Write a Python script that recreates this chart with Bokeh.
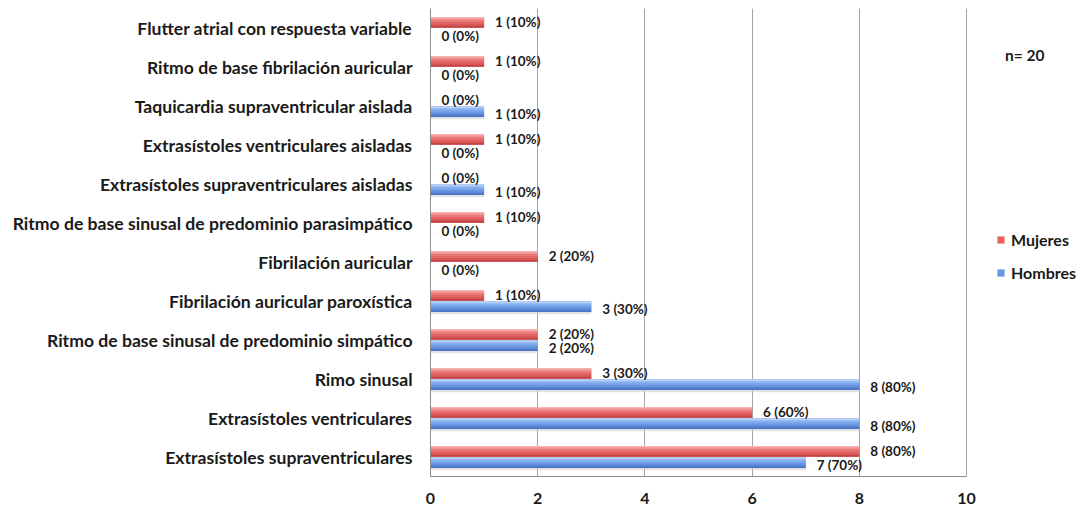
from bokeh.plotting import figure
from bokeh.models import (FixedTicker, Legend, LegendItem, ColumnDataSource, Label)
from bokeh.core.properties import value
from bokeh.transform import dodge
from bokeh.embed import file_html
from bokeh.resources import INLINE

# bottom -> top
categories = [
    "Extrasístoles supraventriculares",
    "Extrasístoles ventriculares",
    "Rimo sinusal",
    "Ritmo de base sinusal de predominio simpático",
    "Fibrilación auricular paroxística",
    "Fibrilación auricular",
    "Ritmo de base sinusal de predominio parasimpático",
    "Extrasístoles supraventriculares aisladas",
    "Extrasístoles ventriculares aisladas",
    "Taquicardia supraventricular aislada",
    "Ritmo de base fibrilación auricular",
    "Flutter atrial con respuesta variable",
]
mujeres = [8, 6, 3, 2, 1, 2, 1, 0, 1, 0, 1, 1]
hombres = [7, 8, 8, 2, 3, 0, 0, 1, 0, 1, 0, 0]
mujeres_pct = ["80%", "60%", "30%", "20%", "10%", "20%", "10%", "0%", "10%", "0%", "10%", "10%"]
hombres_pct = ["70%", "80%", "80%", "20%", "30%", "0%", "0%", "10%", "0%", "10%", "0%", "0%"]
x_ticks = [0, 2, 4, 6, 8, 10]

FONT = "Lato"
n = len(categories)
ys = list(range(n))
off = 0.145
bh = 0.28

FW = 652
PX_PER_UNIT = 53.6
p = figure(frame_width=FW, frame_height=468, output_backend="svg", toolbar_location=None,
           x_range=(0, FW / PX_PER_UNIT), y_range=(-0.5, n - 0.5),
           min_border_left=430, min_border_right=0, min_border_top=8, min_border_bottom=0)
p.outline_line_color = None
p.background_fill_color = "white"

# y axis
p.yaxis.ticker = FixedTicker(ticks=ys)
p.yaxis.major_label_overrides = {i: c for i, c in enumerate(categories)}
p.yaxis.major_tick_line_color = None
p.yaxis.minor_tick_line_color = None
p.yaxis.axis_line_color = "#8c8c8c"
p.yaxis.major_label_text_font = FONT
p.yaxis.major_label_text_font_style = "bold"
p.yaxis.major_label_text_font_size = "17.6px"
p.yaxis.major_label_text_color = "#1a1a1a"
p.yaxis.major_label_standoff = 12

# x axis
p.xaxis.ticker = FixedTicker(ticks=x_ticks)
p.xaxis.bounds = (0, 10)
p.xaxis.major_tick_line_color = None
p.xaxis.minor_tick_line_color = None
p.xaxis.axis_line_color = "#8c8c8c"
p.xaxis.major_label_text_font = FONT
p.xaxis.major_label_text_font_style = "bold"
p.xaxis.major_label_text_font_size = "16px"
p.xaxis.major_label_text_color = "#1a1a1a"
p.xaxis.major_label_standoff = 10

p.ygrid.grid_line_color = None
p.xgrid.grid_line_color = "#a6a6a6"
p.xgrid.grid_line_width = 1

yr = [y + off for y in ys]
yb = [y - off for y in ys]

src = ColumnDataSource(dict(
    y=ys, yr=yr, yb=yb, m=mujeres, h=hombres,
    ml=[f"{v} ({s})" for v, s in zip(mujeres, mujeres_pct)],
    hl=[f"{v} ({s})" for v, s in zip(hombres, hombres_pct)],
))

def gradient_bar(ycol, xcol, colors, base):
    # full bar in the base colour, then thin stripes (top -> bottom) to mimic a gradient
    r = p.hbar(y=ycol, right=xcol, left=0, height=bh, source=src,
               fill_color=base, line_color=None)
    k = len(colors)
    sh = bh / k
    for i, c in enumerate(colors):
        d = bh / 2 - sh * (i + 0.5)
        p.hbar(y=dodge(ycol, d, range=p.y_range), right=xcol, left=0, height=sh,
               source=src, fill_color=c, line_color=None)
    return r

# soft shadow below blue bars
p.hbar(y=dodge("yb", -bh * 0.6, range=p.y_range), right="h", left=0, height=bh * 0.2,
       source=src, fill_color="#c8c8c8", fill_alpha=0.5, line_color=None)

r_m = gradient_bar("yr", "m", ["#f8b4b4", "#f29494", "#ea7878", "#e26464", "#d65454", "#c44444"], "#e26464")
r_h = gradient_bar("yb", "h", ["#b6d0f8", "#98bcf2", "#7ea8ec", "#6a96e2", "#5a86d6", "#4874c4"], "#6a96e2")

p.text(x="m", y="yr", text="ml", source=src, x_offset=11, y_offset=0,
       text_font=value(FONT), text_font_style="bold", text_font_size="13.5px",
       text_baseline="middle", text_align="left", text_color="#1a1a1a")
p.text(x="h", y="yb", text="hl", source=src, x_offset=11, y_offset=2,
       text_font=value(FONT), text_font_style="bold", text_font_size="13.5px",
       text_baseline="middle", text_align="left", text_color="#1a1a1a")

lab = Label(x=10.72, y=10.31, text="n= 20", text_font=FONT, text_font_style="bold",
            text_font_size="15.5px", text_baseline="middle", text_color="#1a1a1a")
p.add_layout(lab)

legend = Legend(items=[LegendItem(label="Mujeres", renderers=[r_m]),
                       LegendItem(label="Hombres", renderers=[r_h])],
                location=(566, 194), orientation="vertical",
                glyph_width=9, glyph_height=9, label_text_font=FONT,
                label_text_font_style="bold", label_text_font_size="16px",
                label_text_color="#1a1a1a", spacing=14, padding=8,
                margin=0, border_line_color=None, background_fill_alpha=0,
                label_standoff=6)
p.add_layout(legend, "center")

open("out.html", "w").write(file_html(p, INLINE))
